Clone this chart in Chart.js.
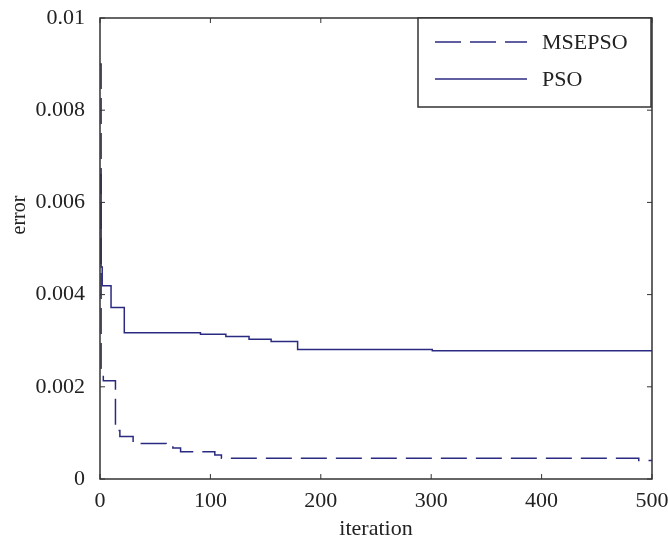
<!DOCTYPE html>
<html>
<head>
<meta charset="utf-8">
<script src="https://cdn.jsdelivr.net/npm/chart.js@4.4.1/dist/chart.umd.min.js"></script>
<style>
  body { margin: 0; background: #fff; }
  canvas { display: block; }
</style>
</head>
<body>
<canvas id="errChart" width="668" height="541"></canvas>
<script>
// data
const seriesNames = ["MSEPSO", "PSO"];

const iterMSEPSO = [0, 1, 3, 14, 16, 18, 30, 60, 66, 73, 104, 110, 488, 500];
const errMSEPSO = [0.0090, 0.0024, 0.00213, 0.00117, 0.00105, 0.00092, 0.00077, 0.00074, 0.00067, 0.00059, 0.00052, 0.00045, 0.00040, 0.00040];

const iterPSO = [0, 1, 2, 10, 22, 91, 114, 135, 155, 179, 301, 500];
const errPSO = [0.0066, 0.0046, 0.00419, 0.00372, 0.00317, 0.00314, 0.00309, 0.00303, 0.00298, 0.00281, 0.00278, 0.00278];

const xTicks = [0, 100, 200, 300, 400, 500];
const yTicks = [0, 0.002, 0.004, 0.006, 0.008, 0.01];

const lineColor = "#2a2a82";
const axisColor = "#333";
const serif = "'Liberation Serif', 'DejaVu Serif', serif";

const toPoints = (xs, ys) => xs.map((x, i) => ({ x, y: ys[i] }));

/* box, inward ticks, axis titles and legend */
const matlabFrame = {
  id: "matlabFrame",
  afterDraw(chart) {
    const { ctx, chartArea: a, scales } = chart;
    ctx.save();
    ctx.strokeStyle = axisColor;
    ctx.lineWidth = 1.5;
    ctx.strokeRect(a.left, a.top, a.right - a.left, a.bottom - a.top);

    ctx.lineWidth = 1;
    ctx.beginPath();
    xTicks.forEach(v => {
      const px = scales.x.getPixelForValue(v);
      ctx.moveTo(px, a.bottom); ctx.lineTo(px, a.bottom - 5);
      ctx.moveTo(px, a.top); ctx.lineTo(px, a.top + 5);
    });
    yTicks.forEach(v => {
      const py = scales.y.getPixelForValue(v);
      ctx.moveTo(a.left, py); ctx.lineTo(a.left + 5, py);
      ctx.moveTo(a.right, py); ctx.lineTo(a.right - 5, py);
    });
    ctx.stroke();

    // axis titles
    ctx.fillStyle = "#222";
    ctx.font = "22px " + serif;
    ctx.textAlign = "center";
    ctx.textBaseline = "middle";
    ctx.fillText("iteration", (a.left + a.right) / 2, 529);
    ctx.save();
    ctx.translate(20, 215);
    ctx.rotate(-Math.PI / 2);
    ctx.font = "20px " + serif;
    ctx.fillText("error", 0, 0);
    ctx.restore();

    // legend
    const lx = 418, ly = a.top, lw = a.right - 1 - 418, lh = 89;
    ctx.fillStyle = "#fff";
    ctx.fillRect(lx, ly, lw, lh);
    ctx.strokeStyle = axisColor;
    ctx.lineWidth = 1.5;
    ctx.strokeRect(lx, ly, lw, lh);
    const rows = [42, 79];
    chart.data.datasets.forEach((ds, i) => {
      ctx.strokeStyle = ds.borderColor;
      ctx.lineWidth = ds.borderWidth;
      ctx.setLineDash(ds.borderDash || []);
      ctx.beginPath();
      ctx.moveTo(435, rows[i]);
      ctx.lineTo(527, rows[i]);
      ctx.stroke();
      ctx.setLineDash([]);
      ctx.fillStyle = "#222";
      ctx.font = "22px " + serif;
      ctx.textAlign = "left";
      ctx.fillText(ds.label, 542, rows[i] + 1);
    });
    ctx.restore();
  }
};

new Chart(document.getElementById("errChart"), {
  type: "line",
  data: {
    datasets: [
      {
        label: seriesNames[0],
        data: toPoints(iterMSEPSO, errMSEPSO),
        borderColor: lineColor,
        borderWidth: 1.5,
        borderDash: [26, 9],
        stepped: true,
        pointRadius: 0,
        fill: false
      },
      {
        label: seriesNames[1],
        data: toPoints(iterPSO, errPSO),
        borderColor: lineColor,
        borderWidth: 1.5,
        stepped: true,
        pointRadius: 0,
        fill: false
      }
    ]
  },
  options: {
    responsive: false,
    animation: false,
    layout: { padding: { left: 0, top: 18, right: 16, bottom: 0 } },
    plugins: {
      legend: { display: false },
      tooltip: { enabled: false }
    },
    scales: {
      x: {
        type: "linear",
        min: 0,
        max: 500,
        afterBuildTicks: s => { s.ticks = xTicks.map(value => ({ value })); },
        afterFit: s => { s.height = 62; s.paddingLeft = 0; s.paddingRight = 0; },
        grid: { display: false, drawTicks: false },
        border: { display: false },
        ticks: {
          padding: 9,
          color: "#222",
          font: { family: serif, size: 22 },
          maxRotation: 0
        }
      },
      y: {
        min: 0,
        max: 0.01,
        afterBuildTicks: s => { s.ticks = yTicks.map(value => ({ value })); },
        afterFit: s => { s.width = 100; s.paddingTop = 0; s.paddingBottom = 0; },
        grid: { display: false, drawTicks: false },
        border: { display: false },
        ticks: {
          padding: 15,
          color: "#222",
          font: { family: serif, size: 22 },
          callback: v => String(parseFloat(Number(v).toFixed(3)))
        }
      }
    }
  },
  plugins: [matlabFrame]
});
</script>
</body>
</html>
